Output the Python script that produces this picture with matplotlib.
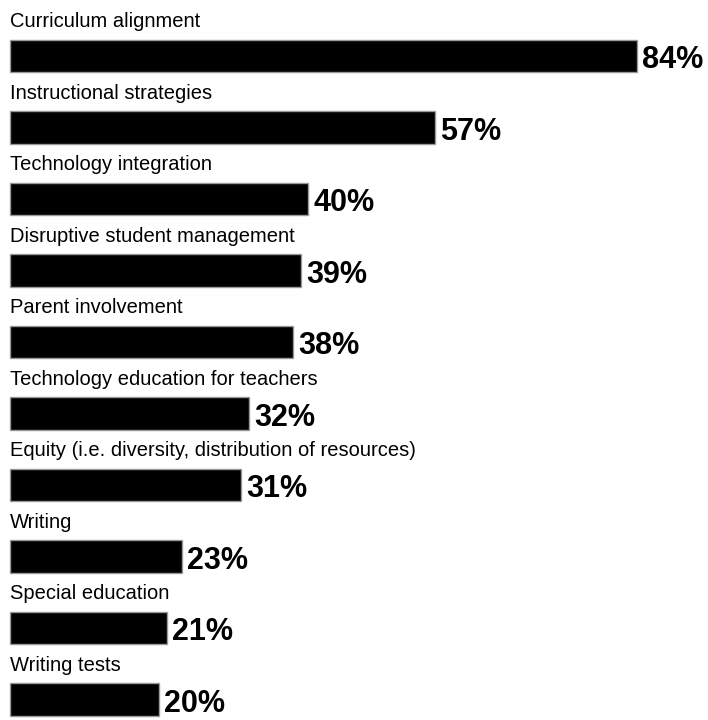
import matplotlib.pyplot as plt

topics = ["Curriculum alignment", "Instructional strategies", "Technology integration",
          "Disruptive student management", "Parent involvement",
          "Technology education for teachers",
          "Equity (i.e. diversity, distribution of resources)",
          "Writing", "Special education", "Writing tests"]
percent = [84, 57, 40, 39, 38, 32, 31, 23, 21, 20]

plt.rcParams['font.family'] = ['Liberation Sans', 'DejaVu Sans']

fig = plt.figure(figsize=(7.08, 7.2), dpi=100)
ax = fig.add_axes([0, 0, 1, 1])
rows = list(range(len(topics)))
ax.barh(rows, percent, height=0.45, color='black', edgecolor='#999999', linewidth=1.0)
for i, (t, p) in enumerate(zip(topics, percent)):
    ax.text(0, i - 0.48, t, fontsize=14.5, va='center', ha='left', color='black')
    ax.text(p + 0.7, i + 0.06, str(p) + "%", fontsize=22, fontweight='bold',
            va='center', ha='left', color='black')
ax.set_xlim(-1.34, 93.57)
ax.set_ylim(9.287, -0.783)
ax.axis('off')
fig.savefig('out.png', dpi=100)
